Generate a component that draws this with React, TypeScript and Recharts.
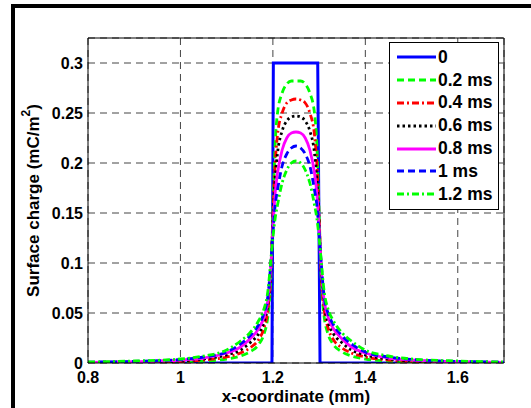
import React from "react";
import { LineChart, Line, XAxis, YAxis, CartesianGrid, ReferenceLine, Legend } from "recharts";

// x positions (mm) for the diffused profiles
const xCoord = [
  0.8, 0.9, 1.0, 1.05, 1.1, 1.13, 1.15, 1.17, 1.18, 1.19, 1.195, 1.2, 1.205, 1.21, 1.22, 1.23, 1.24, 1.25,
  1.26, 1.27, 1.28, 1.29, 1.295, 1.3, 1.305, 1.31, 1.32, 1.33, 1.35, 1.37, 1.4, 1.45, 1.5, 1.6, 1.7,
];

// surface charge (mC/m^2) at each time
const t02 = [
  0.0003, 0.0005, 0.001, 0.002, 0.004, 0.007, 0.011, 0.019, 0.028, 0.05, 0.08, 0.15, 0.22, 0.25, 0.27, 0.279, 0.282, 0.282,
  0.282, 0.279, 0.27, 0.25, 0.22, 0.15, 0.08, 0.05, 0.028, 0.019, 0.011, 0.007, 0.004, 0.002, 0.001, 0.0005, 0.0003,
];
const t04 = [
  0.0004, 0.0007, 0.0015, 0.003, 0.006, 0.01, 0.015, 0.024, 0.034, 0.057, 0.085, 0.145, 0.2, 0.228, 0.25, 0.26, 0.263, 0.264,
  0.263, 0.26, 0.25, 0.228, 0.2, 0.145, 0.085, 0.057, 0.034, 0.024, 0.015, 0.01, 0.006, 0.003, 0.0015, 0.0007, 0.0004,
];
const t06 = [
  0.0005, 0.001, 0.002, 0.004, 0.008, 0.013, 0.02, 0.03, 0.04, 0.062, 0.09, 0.14, 0.185, 0.21, 0.232, 0.242, 0.246, 0.247,
  0.246, 0.242, 0.232, 0.21, 0.185, 0.14, 0.09, 0.062, 0.04, 0.03, 0.02, 0.013, 0.008, 0.004, 0.002, 0.001, 0.0005,
];
const t08 = [
  0.0007, 0.0013, 0.003, 0.005, 0.01, 0.016, 0.024, 0.035, 0.045, 0.066, 0.093, 0.135, 0.17, 0.19, 0.213, 0.225, 0.23, 0.231,
  0.23, 0.225, 0.213, 0.19, 0.17, 0.135, 0.093, 0.066, 0.045, 0.035, 0.024, 0.016, 0.01, 0.005, 0.003, 0.0013, 0.0007,
];
const t10 = [
  0.0009, 0.0016, 0.0035, 0.006, 0.011, 0.019, 0.027, 0.039, 0.049, 0.07, 0.097, 0.13, 0.158, 0.173, 0.197, 0.209, 0.215, 0.217,
  0.215, 0.209, 0.197, 0.173, 0.158, 0.13, 0.097, 0.07, 0.049, 0.039, 0.027, 0.019, 0.011, 0.006, 0.0035, 0.0016, 0.0009,
];
const t12 = [
  0.001, 0.002, 0.004, 0.007, 0.013, 0.022, 0.03, 0.043, 0.053, 0.075, 0.1, 0.125, 0.145, 0.158, 0.18, 0.193, 0.2, 0.202,
  0.2, 0.193, 0.18, 0.158, 0.145, 0.125, 0.1, 0.075, 0.053, 0.043, 0.03, 0.022, 0.013, 0.007, 0.004, 0.002, 0.001,
];

// initial rectangular charge
const stepX = [0.8, 1.198, 1.201, 1.297, 1.302, 1.7];
const stepY = [0, 0, 0.3, 0.3, 0, 0];

const xTicks = [0.8, 1, 1.2, 1.4, 1.6];
const yTicks = [0, 0.05, 0.1, 0.15, 0.2, 0.25, 0.3];

const rows = xCoord.map((x, i) => ({ x, t02: t02[i], t04: t04[i], t06: t06[i], t08: t08[i], t10: t10[i], t12: t12[i] }));
const stepRows = stepX.map((x, i) => ({ x, t0: stepY[i] }));

const series = [
  { key: "t0", name: "0", color: "#0000ff", dash: undefined, width: 3 },
  { key: "t02", name: "0.2 ms", color: "#00ff00", dash: "7 4", width: 2.8 },
  { key: "t04", name: "0.4 ms", color: "#ff0000", dash: "7 3 2 3", width: 2.8 },
  { key: "t06", name: "0.6 ms", color: "#000000", dash: "2.5 3", width: 2.8 },
  { key: "t08", name: "0.8 ms", color: "#ff00ff", dash: undefined, width: 2.8 },
  { key: "t10", name: "1 ms", color: "#0000ff", dash: "7 4", width: 2.8 },
  { key: "t12", name: "1.2 ms", color: "#00ff00", dash: "7 3 2 3", width: 2.8 },
];

const font = "Arial, 'Liberation Sans', sans-serif";

const renderLegend = () => (
  <div style={{ background: "#fff", border: "1.5px solid #000", width: 108, padding: "3px 0", fontFamily: font, fontWeight: "bold", fontSize: 17.5 }}>
    {series.map((s) => (
      <div key={s.key} style={{ display: "flex", alignItems: "center", height: 22.8 }}>
        <svg width={48} height={10} style={{ flex: "none" }}>
          <line x1={7} y1={5} x2={46} y2={5} stroke={s.color} strokeWidth={s.width} strokeDasharray={s.dash} />
        </svg>
        <span style={{ lineHeight: "17px" }}>{s.name}</span>
      </div>
    ))}
  </div>
);

const YLabel = (props: any) => {
  const vb = props.viewBox;
  const cx = vb.x - 5;
  const cy = vb.y + vb.height / 2;
  return (
    <text x={cx} y={cy} transform={`rotate(-90 ${cx} ${cy})`} textAnchor="middle" dominantBaseline="central"
      fontFamily={font} fontWeight="bold" fontSize={17} fill="#000">
      Surface charge (mC/m<tspan dy={-7} fontSize={12}>2</tspan><tspan dy={7}>)</tspan>
    </text>
  );
};

const XLabel = (props: any) => {
  const vb = props.viewBox;
  return (
    <text x={vb.x + vb.width / 2} y={vb.y + 39} textAnchor="middle" fontFamily={font} fontWeight="bold" fontSize={17} fill="#000">
      x-coordinate (mm)
    </text>
  );
};

export default function App() {
  return (
    <div style={{ position: "absolute", left: 0, top: 0, width: 531, height: 408, background: "#fff", overflow: "hidden" }}>
      <div style={{ position: "absolute", left: 11, top: 4, width: 600, height: 500, border: "4px solid #000" }} />
      <div style={{ position: "absolute", left: 0, top: 0 }}>
        <LineChart width={531} height={408} data={rows} margin={{ top: 38, right: 27, bottom: 0, left: 38 }}>
          <CartesianGrid stroke="#444" strokeDasharray="7 5" />
          <XAxis dataKey="x" type="number" domain={[0.8, 1.7]} ticks={xTicks} allowDataOverflow
            height={45} tickLine={false} tickSize={0} tickMargin={9} stroke="#000"
            tick={{ fill: "#000", fontFamily: font, fontWeight: "bold", fontSize: 16 }}
            label={{ content: XLabel }} />
          <YAxis type="number" domain={[0, 0.325]} ticks={yTicks} allowDataOverflow
            width={50} tickLine={false} tickSize={0} tickMargin={5} stroke="#000"
            tick={{ fill: "#000", fontFamily: font, fontWeight: "bold", fontSize: 16 }}
            label={{ content: YLabel }} />
          <ReferenceLine y={0.325} stroke="#000" />
          <ReferenceLine x={1.7} stroke="#000" />
          {series.map((s) => (
            <Line key={s.key} data={s.key === "t0" ? stepRows : undefined} dataKey={s.key} name={s.name}
              type={s.key === "t0" ? "linear" : "monotone"} stroke={s.color} strokeWidth={s.width}
              strokeDasharray={s.dash} dot={false} activeDot={false} isAnimationActive={false} />
          ))}
          <Legend layout="vertical" align="center" verticalAlign="middle" content={renderLegend}
            wrapperStyle={{ left: 389, top: 42, width: 111, height: "auto" }} />
        </LineChart>
      </div>
    </div>
  );
}
